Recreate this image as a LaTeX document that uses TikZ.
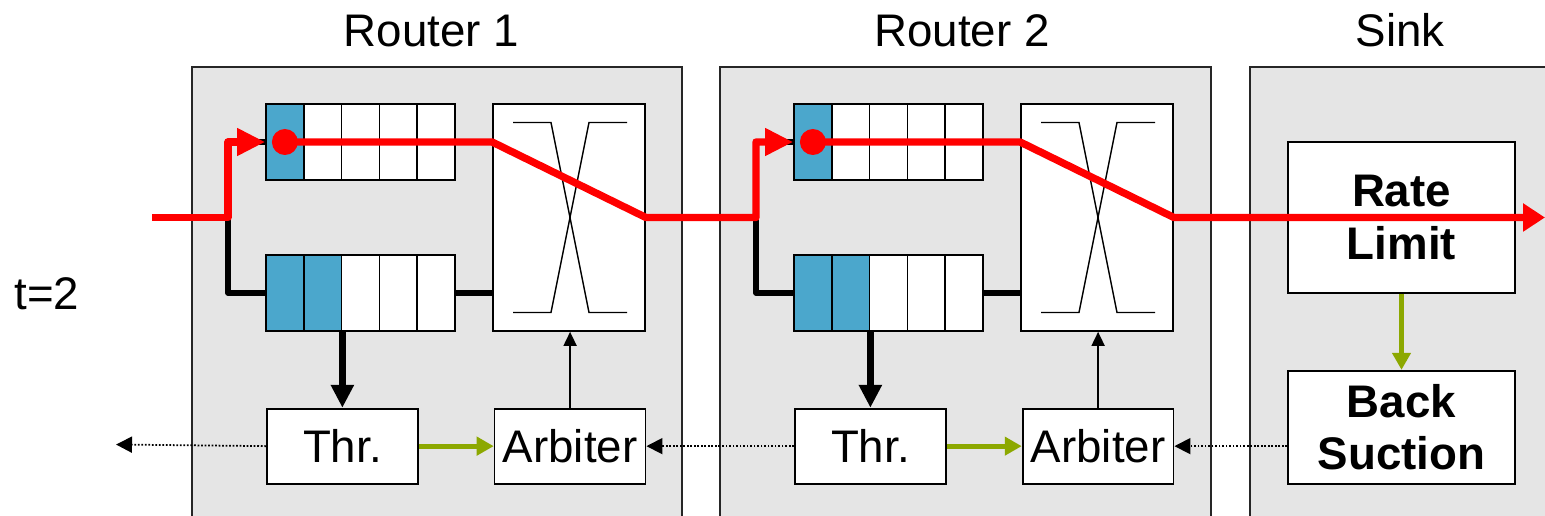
\documentclass[tikz,border=0pt]{standalone}
\usepackage{fontspec}
\setmainfont{Liberation Sans}
\usetikzlibrary{arrows.meta, positioning}
\definecolor{boxgray}{HTML}{E5E5E5}
\definecolor{qblue}{HTML}{4BA7CC}
\definecolor{ctrlgreen}{HTML}{8CA800}

\begin{document}
\begin{tikzpicture}[
        x=0.02cm, y=-0.02cm,
        every node/.style={font=\fontsize{26}{30}\selectfont},
        router/.style={fill=boxgray},
        frame/.style={draw=black!85, line width=1pt},
        title/.style={anchor=base, inner sep=0pt},
        cell/.style={rectangle, draw, line width=0.9pt, minimum width=0.756cm, minimum height=1.52cm, inner sep=0pt},
        xbar/.style={rectangle, draw, fill=white, line width=1pt, minimum width=3.04cm, minimum height=4.54cm},
        ctrl/.style={rectangle, draw, fill=white, line width=1pt, minimum width=3.02cm, minimum height=1.5cm, inner sep=0pt},
        sinkbox/.style={rectangle, draw, fill=white, line width=1pt, minimum width=4.54cm, align=center, inner sep=0pt, font=\fontsize{26}{30}\selectfont\bfseries},
        pkt/.style={circle, fill=red, minimum size=0.52cm, inner sep=0pt},
        xline/.style={line width=0.8pt},
        flow/.style={red, line width=4.2pt, line join=round},
        flowarrow/.style={-{Triangle[length=0.56cm, width=0.52cm]}},
        wire/.style={line width=3.2pt, line join=round},
        fatarrow/.style={-{Triangle[length=0.46cm, width=0.44cm]}, line width=3.6pt},
        thinarrow/.style={-{Triangle[length=0.28cm, width=0.26cm]}, line width=1pt},
        ctrlarrow/.style={-{Triangle[length=0.34cm, width=0.36cm]}, ctrlgreen, line width=2.8pt},
        sigarrow/.style={-{Triangle[length=0.32cm, width=0.32cm]}, line width=1pt, dash pattern=on 1pt off 1pt}
    ]
    \useasboundingbox (0,0) rectangle (1545,516);

    % Frames of the two routers and the sink
    \fill[router] (192,67) rectangle (682,516);
    \draw[frame] (192,516) |- (682,67) -- (682,516);
    \fill[router] (720,67) rectangle (1211,516);
    \draw[frame] (720,516) |- (1211,67) -- (1211,516);
    \fill[router] (1250,67) rectangle (1545,516);
    \draw[frame] (1250,516) |- (1545,67);

    \node[title] (title1) at (431.5,47) {Router 1};
    \node[title] (title2) at (962,47) {Router 2};
    \node[title] (title3) at (1400,47) {Sink};
    \node[title] (time) at (47,310) {t=2};

    % Router 1: input queues
    \foreach \i/\c in {1/qblue, 2/white, 3/white, 4/white, 5/white}
        \node[cell, fill=\c] (r1t\i) at ({266+37.8*(\i-0.5)},142) {};
    \foreach \i/\c in {1/qblue, 2/qblue, 3/white, 4/white, 5/white}
        \node[cell, fill=\c] (r1b\i) at ({266+37.8*(\i-0.5)},293) {};

    % Router 1: crossbar, threshold and arbiter
    \node[xbar] (xbar1) at (569,217.5) {};
    \draw[xline, shift={(xbar1.center)}] (-56,-95) -- (-18,-95) -- (20,95) -- (58,95)
        (58,-95) -- (20,-95) -- (-18,95) -- (-56,95);
    \node[ctrl, below=1.52cm of r1b2.south east] (thr1) {Thr.};
    \node[ctrl, right=1.5cm of thr1] (arb1) {Arbiter};

    % Router 2: input queues
    \foreach \i/\c in {1/qblue, 2/white, 3/white, 4/white, 5/white}
        \node[cell, fill=\c] (r2t\i) at ({794+37.8*(\i-0.5)},142) {};
    \foreach \i/\c in {1/qblue, 2/qblue, 3/white, 4/white, 5/white}
        \node[cell, fill=\c] (r2b\i) at ({794+37.8*(\i-0.5)},293) {};

    % Router 2: crossbar, threshold and arbiter
    \node[xbar] (xbar2) at (1097,217.5) {};
    \draw[xline, shift={(xbar2.center)}] (-56,-95) -- (-18,-95) -- (20,95) -- (58,95)
        (58,-95) -- (20,-95) -- (-18,95) -- (-56,95);
    \node[ctrl, below=1.52cm of r2b2.south east] (thr2) {Thr.};
    \node[ctrl, right=1.5cm of thr2] (arb2) {Arbiter};

    % Sink
    \node[sinkbox, minimum height=3.02cm] (rate) at (1401.5,217.5) {Rate\\Limit};
    \node[sinkbox, minimum height=2.26cm, below=1.52cm of rate] (back) {Back\\Suction};

    % Junctions and free ends
    \coordinate (src) at (152,217.5);
    \coordinate (j1) at (228,217.5);
    \coordinate (j2) at (756,217.5);
    \coordinate (sinkout) at (1545,217.5);
    \coordinate (sigout) at (116,444.5);

    % Wires into the queues and out to the crossbars
    \draw[wire] (j1) |- (r1t1.west);
    \draw[wire] (j1) |- (r1b1.west);
    \draw[wire] (r1b5.east) -- (r1b5.east -| xbar1.west);
    \draw[wire] (j2) |- (r2t1.west);
    \draw[wire] (j2) |- (r2b1.west);
    \draw[wire] (r2b5.east) -- (r2b5.east -| xbar2.west);

    % Control connections
    \draw[fatarrow] (r1b2.south east) -- (thr1.north);
    \draw[fatarrow] (r2b2.south east) -- (thr2.north);
    \draw[thinarrow] (arb1.north) -- (arb1.north |- xbar1.south);
    \draw[thinarrow] (arb2.north) -- (arb2.north |- xbar2.south);
    \draw[ctrlarrow] (thr1.east) -- (arb1.west);
    \draw[ctrlarrow] (thr2.east) -- (arb2.west);
    \draw[ctrlarrow] (rate.south) -- (back.north);

    % Back-pressure signals
    \draw[sigarrow] (thr1.west) -- (sigout);
    \draw[sigarrow] (thr2.west) -- (arb1.east);
    \draw[sigarrow] (back.west |- arb2.east) -- (arb2.east);

    % Packet path
    \node[pkt] (pkt1) at (r1t1) {};
    \node[pkt] (pkt2) at (r2t1) {};
    \draw[flow, flowarrow] (src) -- (j1) |- (r1t1.west);
    \draw[flow, flowarrow] (pkt1.center) -- (pkt1 -| xbar1.west) -- (xbar1.east) -- (j2) |- (r2t1.west);
    \draw[flow, -{Triangle[length=0.44cm, width=0.54cm]}] (pkt2.center) -- (pkt2 -| xbar2.west) -- (xbar2.east) -- (sinkout);

\end{tikzpicture}
\end{document}
